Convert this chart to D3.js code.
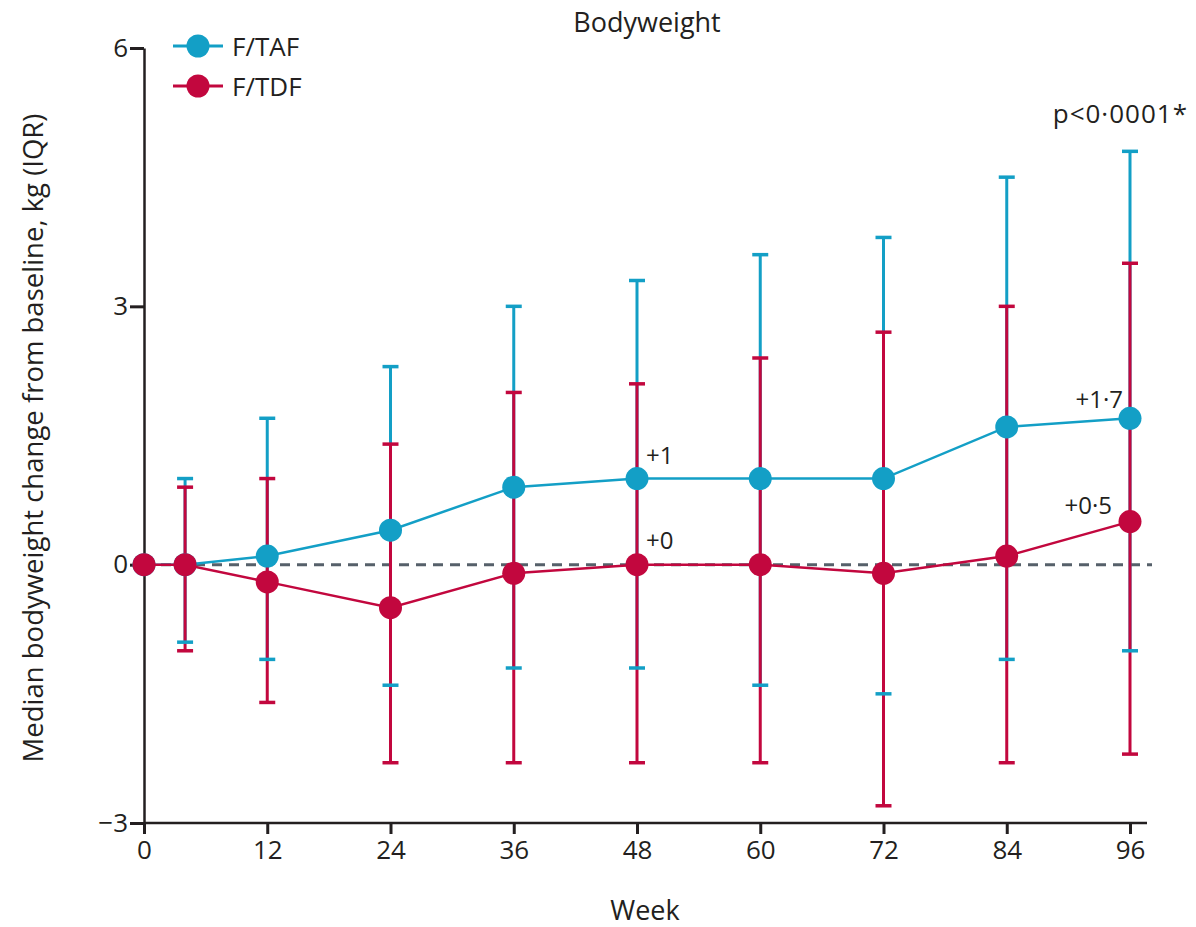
<!DOCTYPE html>
<html><head><meta charset="utf-8">
<script src="https://cdn.jsdelivr.net/npm/d3@7"></script>
<style>body{margin:0;background:#fff}svg{display:block}text{font-family:"Open Sans","Noto Sans",sans-serif;fill:#231f20}</style>
</head><body>
<script>
const weeks = [0, 4, 12, 24, 36, 48, 60, 72, 84, 96];
const tafMedian = [0, 0, 0.1, 0.4, 0.9, 1.0, 1.0, 1.0, 1.6, 1.7];
const tafQ1 = [null, -0.9, -1.1, -1.4, -1.2, -1.2, -1.4, -1.5, -1.1, -1.0];
const tafQ3 = [null, 1.0, 1.7, 2.3, 3.0, 3.3, 3.6, 3.8, 4.5, 4.8];
const tdfMedian = [0, 0, -0.2, -0.5, -0.1, 0, 0, -0.1, 0.1, 0.5];
const tdfQ1 = [null, -1.0, -1.6, -2.3, -2.3, -2.3, -2.3, -2.8, -2.3, -2.2];
const tdfQ3 = [null, 0.9, 1.0, 1.4, 2.0, 2.1, 2.4, 2.7, 3.0, 3.5];
const xTicks = [0, 12, 24, 36, 48, 60, 72, 84, 96];
const yTicks = [-3, 0, 3, 6];
const seriesNames = ["F/TAF", "F/TDF"];
const annotations = [
  {week: 48, value: 1.0, text: "+1", anchor: "start", dx: 9, dy: -15},
  {week: 48, value: 0, text: "+0", anchor: "start", dx: 9, dy: -16},
  {week: 96, value: 1.7, text: "+1·7", anchor: "end", dx: -7, dy: -10},
  {week: 96, value: 0.5, text: "+0·5", anchor: "end", dx: -18, dy: -8}
];

const TEAL = "#139fc6", RED = "#c2073e";
const W = 1196, H = 927;
const FS = 26;
const svg = d3.select("body").append("svg").attr("width", W).attr("height", H);
const x = d3.scaleLinear().domain([0, 96]).range([144, 1130]);
const y = d3.scaleLinear().domain([-3, 6]).range([823, 48]);

// axes
const xAxis = svg.append("g").attr("transform", `translate(0,${y(-3)})`)
  .call(d3.axisBottom(x).tickValues(xTicks).tickSize(11).tickPadding(7).tickSizeOuter(0));
xAxis.select(".domain").attr("d", `M${x(0)},0H1147`);
const yAxis = svg.append("g").attr("transform", `translate(${x(0)},0)`)
  .call(d3.axisLeft(y).tickValues(yTicks).tickSize(14).tickPadding(2).tickSizeOuter(0)
    .tickFormat(d => d < 0 ? "\u2212" + Math.abs(d) : d));
[xAxis, yAxis].forEach(g => {
  g.selectAll(".domain").attr("stroke", "#231f20").attr("stroke-width", 2.5);
  g.selectAll(".tick line").attr("stroke", "#231f20").attr("stroke-width", 3);
  g.selectAll(".tick text").attr("font-size", FS).attr("fill", "#231f20");
});

// dashed zero line
svg.append("line").attr("x1", x(0)).attr("x2", 1152).attr("y1", y(0)).attr("y2", y(0))
  .attr("stroke", "#56606a").attr("stroke-width", 3).attr("stroke-dasharray", "10,7");

const taf = weeks.map((w, i) => ({w, m: tafMedian[i], lo: tafQ1[i], hi: tafQ3[i]}));
const tdf = weeks.map((w, i) => ({w, m: tdfMedian[i], lo: tdfQ1[i], hi: tdfQ3[i]}));

function bars(data, color) {
  svg.append("g").selectAll("line").data(data.filter(d => d.lo !== null)).join("line")
    .attr("x1", d => x(d.w)).attr("x2", d => x(d.w))
    .attr("y1", d => y(d.hi)).attr("y2", d => y(d.lo))
    .attr("stroke", color).attr("stroke-width", 3);
}
function caps(data, color) {
  const g = svg.append("g");
  data.filter(d => d.lo !== null).forEach(d => {
    [d.lo, d.hi].forEach(v => g.append("line")
      .attr("x1", x(d.w) - 8).attr("x2", x(d.w) + 8).attr("y1", y(v)).attr("y2", y(v))
      .attr("stroke", color).attr("stroke-width", 3.5));
  });
}
bars(taf, TEAL); bars(tdf, RED);
caps(taf, TEAL); caps(tdf, RED);

const line = d3.line().x(d => x(d.w)).y(d => y(d.m));
function series(data, color) {
  svg.append("path").datum(data).attr("d", line).attr("fill", "none")
    .attr("stroke", color).attr("stroke-width", 2.5);
  svg.append("g").selectAll("circle").data(data).join("circle")
    .attr("cx", d => x(d.w)).attr("cy", d => y(d.m)).attr("r", 11.5).attr("fill", color);
}
series(taf, TEAL); series(tdf, RED);

// annotations
annotations.forEach(a => svg.append("text").attr("x", x(a.week) + a.dx).attr("y", y(a.value) + a.dy)
  .attr("text-anchor", a.anchor).attr("font-size", 24).text(a.text));
svg.append("text").attr("x", 1188).attr("y", 123).attr("text-anchor", "end").attr("font-size", 26)
  .attr("letter-spacing", 1).text("p<0·0001*");

// title and axis labels
svg.append("text").attr("x", 647).attr("y", 32).attr("text-anchor", "middle").attr("font-size", 27).text("Bodyweight");
svg.append("text").attr("x", 645).attr("y", 920).attr("text-anchor", "middle").attr("font-size", 27).text("Week");
svg.append("text").attr("transform", `translate(43,438) rotate(-90)`).attr("text-anchor", "middle")
  .attr("font-size", 27.5).text("Median bodyweight change from baseline, kg (IQR)");

// legend
[TEAL, RED].forEach((c, i) => {
  const ly = 46 + i * 40;
  svg.append("line").attr("x1", 173).attr("x2", 223).attr("y1", ly).attr("y2", ly).attr("stroke", c).attr("stroke-width", 3);
  svg.append("circle").attr("cx", 198).attr("cy", ly).attr("r", 11.5).attr("fill", c);
  svg.append("text").attr("x", 232).attr("y", ly + 10).attr("font-size", 26).text(seriesNames[i]);
});
</script>
</body></html>
